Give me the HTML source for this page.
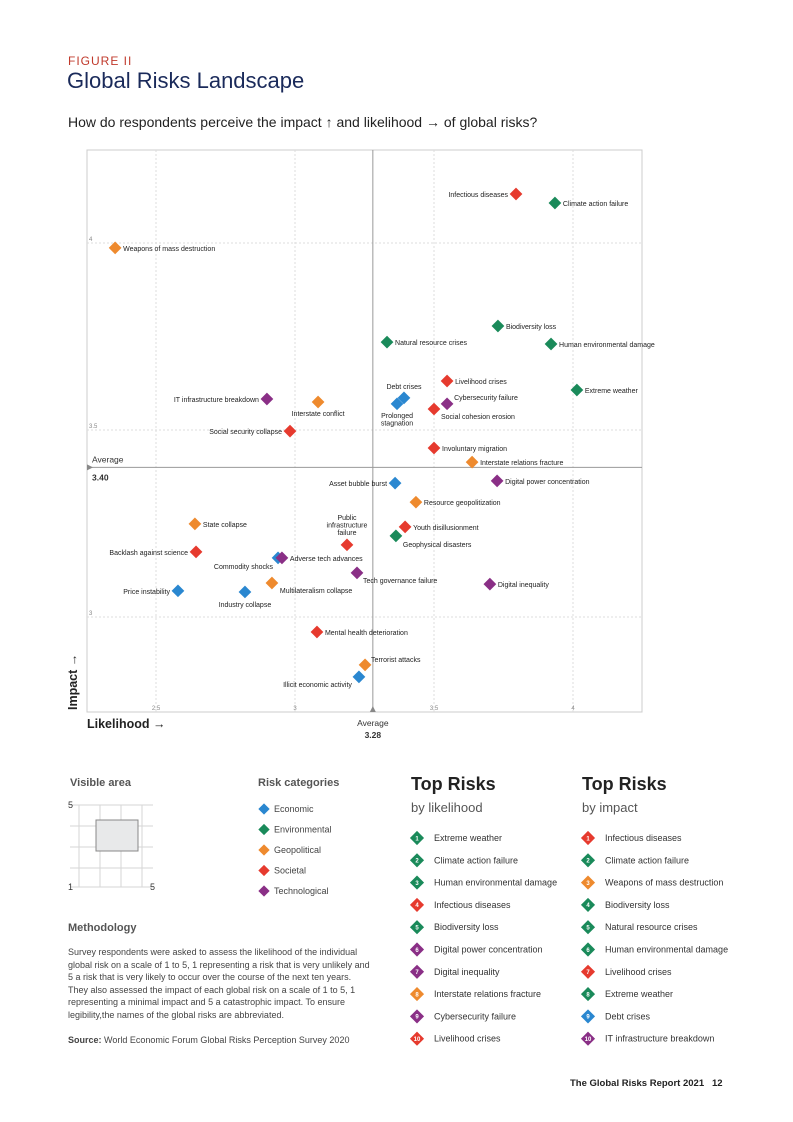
<!DOCTYPE html>
<html><head><meta charset="utf-8">
<style>
body{margin:0;width:793px;height:1122px;background:#fff;font-family:"Liberation Sans",sans-serif;color:#222;position:relative;overflow:hidden}
.abs{position:absolute}
</style></head><body>
<div class="abs" style="left:68px;top:54px;font-size:12px;letter-spacing:1px;color:#c0392b">FIGURE II</div>
<div class="abs" style="left:67px;top:68px;font-size:22px;color:#1a2a5a">Global Risks Landscape</div>
<div class="abs" style="left:68px;top:114px;font-size:14px;color:#222">How do respondents perceive the impact ↑ and likelihood → of global risks?</div>
<svg class="abs" style="left:0;top:0" width="793" height="760" id="chart"></svg>

<div class="abs" style="left:70px;top:777px;font-size:11px;font-weight:bold;color:#555">Visible area</div>
<svg class="abs" style="left:60px;top:795px" width="110" height="100">
<g stroke="#d6d6d6" stroke-width="1"><line x1="19" y1="10" x2="19" y2="92"/><line x1="40" y1="10" x2="40" y2="92"/><line x1="61" y1="10" x2="61" y2="92"/><line x1="82" y1="10" x2="82" y2="92"/>
<line x1="10" y1="10" x2="93" y2="10"/><line x1="10" y1="31" x2="93" y2="31"/><line x1="10" y1="52" x2="93" y2="52"/><line x1="10" y1="73" x2="93" y2="73"/><line x1="10" y1="92" x2="93" y2="92"/></g>
<rect x="36" y="25" width="42" height="31" fill="#e8e9ea" stroke="#888"/>
<text x="8" y="13" font-size="9" fill="#333">5</text><text x="8" y="95" font-size="9" fill="#333">1</text><text x="90" y="95" font-size="9" fill="#333">5</text>
</svg>
<div class="abs" style="left:258px;top:777px;font-size:11px;font-weight:bold;color:#555">Risk categories</div>
<svg class="abs" style="left:255px;top:800px" width="120" height="100" id="legend"></svg>

<div class="abs" style="left:68px;top:922px;font-size:11px;font-weight:bold;color:#555">Methodology</div>
<div class="abs" style="left:68px;top:946px;width:304px;font-size:9px;line-height:12.5px;color:#444">Survey respondents were asked to assess the likelihood of the individual global risk on a scale of 1 to 5, 1 representing a risk that is very unlikely and 5 a risk that is very likely to occur over the course of the next ten years. They also assessed the impact of each global risk on a scale of 1 to 5, 1 representing a minimal impact and 5 a catastrophic impact. To ensure legibility,the names of the global risks are abbreviated.</div>
<div class="abs" style="left:68px;top:1035px;font-size:9px;color:#444"><b>Source:</b> World Economic Forum Global Risks Perception Survey 2020</div>

<div class="abs" style="left:411px;top:774px;font-size:18px;font-weight:bold;color:#222">Top Risks</div>
<div class="abs" style="left:411px;top:800px;font-size:13px;color:#555">by likelihood</div>
<div class="abs" style="left:582px;top:774px;font-size:18px;font-weight:bold;color:#222">Top Risks</div>
<div class="abs" style="left:582px;top:800px;font-size:13px;color:#555">by impact</div>
<svg class="abs" style="left:400px;top:825px" width="393" height="230" id="tops"></svg>
<div class="abs" style="left:570px;top:1078px;font-size:9.5px;font-weight:bold;color:#222">The Global Risks Report 2021&nbsp;&nbsp;&nbsp;12</div>

<script>
const names=["Infectious diseases","Climate action failure","Weapons of mass destruction","Biodiversity loss","Natural resource crises","Human environmental damage","Livelihood crises","Extreme weather","IT infrastructure breakdown","Interstate conflict","Debt crises","Prolonged stagnation","Cybersecurity failure","Social cohesion erosion","Social security collapse","Involuntary migration","Interstate relations fracture","Asset bubble burst","Digital power concentration","Resource geopolitization","State collapse","Youth disillusionment","Public infrastructure failure","Geophysical disasters","Backlash against science","Commodity shocks","Adverse tech advances","Tech governance failure","Multilateralism collapse","Digital inequality","Price instability","Industry collapse","Mental health deterioration","Terrorist attacks","Illicit economic activity"];
const categories=["soc","env","geo","env","env","env","soc","env","tech","geo","eco","eco","tech","soc","soc","soc","geo","eco","tech","geo","geo","soc","soc","env","soc","eco","tech","tech","geo","tech","eco","eco","soc","geo","eco"];
const likelihood=[3.795,3.935,2.353,3.730,3.331,3.921,3.547,4.014,2.899,3.083,3.392,3.367,3.547,3.500,2.982,3.500,3.637,3.360,3.727,3.435,2.640,3.396,3.187,3.363,2.644,2.939,2.953,3.223,2.917,3.701,2.579,2.820,3.079,3.252,3.230];
const impact=[4.131,4.107,3.987,3.778,3.735,3.730,3.631,3.607,3.583,3.575,3.586,3.570,3.570,3.556,3.497,3.452,3.414,3.358,3.364,3.307,3.249,3.241,3.193,3.217,3.174,3.158,3.158,3.118,3.091,3.088,3.070,3.067,2.960,2.872,2.840];
const xTicks=[2.5,3,3.5,4];
const yTicks=[3,3.5,4];
const avgX=3.28, avgY=3.40;
const colors={eco:"#2a87d0",env:"#1a8a5a",geo:"#ee8a2e",soc:"#e63a2e",tech:"#8a2f86"};
const lab={"Infectious diseases":[-8,3,"end"],"Debt crises":[0,-9,"middle"],"Prolonged stagnation":[0,14,"middle"],"IT infrastructure breakdown":[-8,3,"end"],"Interstate conflict":[0,14,"middle"],"Social security collapse":[-8,3,"end"],"Asset bubble burst":[-8,3,"end"],"Public infrastructure failure":[0,-25,"middle"],"Backlash against science":[-8,3,"end"],"Commodity shocks":[-5,11,"end"],"Price instability":[-8,3,"end"],"Industry collapse":[0,15,"middle"],"Illicit economic activity":[-7,10,"end"],"Terrorist attacks":[6,-3,"start"],"Geophysical disasters":[7,11,"start"],"Tech governance failure":[6,10,"start"],"Multilateralism collapse":[8,10,"start"],"Social cohesion erosion":[7,10,"start"],"Cybersecurity failure":[7,-4,"start"]};
const X=v=>295+(v-3)*278, Y=v=>430-(v-3.5)*374;
const NS="http://www.w3.org/2000/svg";
const svg=document.getElementById('chart');
function mk(t,a,p){const e=document.createElementNS(NS,t);for(const k in a)e.setAttribute(k,a[k]);(p||svg).appendChild(e);return e;}
const L=87,R=642,T=150,B=712;
const frame=mk('rect',{x:L,y:T,width:R-L,height:B-T,fill:"none",stroke:"#ccc"});


xTicks.forEach(v=>{const g=mk('line',{x1:X(v),x2:X(v),y1:T,y2:B,stroke:"#ddd","stroke-dasharray":"2,2"});


const t=mk('text',{x:X(v),y:B-2,"font-size":6,fill:"#888","text-anchor":"middle"});t.textContent=v;

});
yTicks.forEach(v=>{const g=mk('line',{x1:L,x2:R,y1:Y(v),y2:Y(v),stroke:"#ddd","stroke-dasharray":"2,2"});


const t=mk('text',{x:L+2,y:Y(v)-2,"font-size":6,fill:"#888"});t.textContent=v;

});
const ax=mk('line',{x1:X(avgX),x2:X(avgX),y1:T,y2:B,stroke:"#999"});


const ay=mk('line',{x1:L,x2:R,y1:Y(avgY),y2:Y(avgY),stroke:"#999"});


mk('path',{d:`M${X(avgX)-3},${B} L${X(avgX)+3},${B} L${X(avgX)},${B-6}Z`,fill:"#888"});
mk('path',{d:`M${L},${Y(avgY)-3} L${L},${Y(avgY)+3} L${L+6},${Y(avgY)}Z`,fill:"#888"});
let t=mk('text',{x:92,y:Y(avgY)-5,"font-size":8.5,fill:"#333"});t.textContent="Average";


t=mk('text',{x:92,y:Y(avgY)+13,"font-size":8.5,"font-weight":"bold",fill:"#333"});t.textContent=avgY.toFixed(2);


t=mk('text',{x:X(avgX),y:B+14,"font-size":8.5,fill:"#333","text-anchor":"middle"});t.textContent="Average";


t=mk('text',{x:X(avgX),y:B+26,"font-size":8.5,"font-weight":"bold",fill:"#333","text-anchor":"middle"});t.textContent=avgX.toFixed(2);


t=mk('text',{x:87,y:728,"font-size":12.5,"font-weight":"bold",fill:"#222"});t.textContent="Likelihood →";


t=mk('text',{x:77,y:710,"font-size":12.5,"font-weight":"bold",fill:"#222",transform:"rotate(-90 77 710)"});t.textContent="Impact →";


names.forEach((n,i)=>{const cx=X(likelihood[i]),cy=Y(impact[i]);
const d=mk('rect',{x:cx-4.5,y:cy-4.5,width:9,height:9,fill:colors[categories[i]],transform:`rotate(45 ${cx} ${cy})`});


const l=lab[n]||[8,3,"start"];
const words=n==="Public infrastructure failure"?["Public","infrastructure","failure"]:n==="Prolonged stagnation"?["Prolonged","stagnation"]:[n];
words.forEach((w,j)=>{const tx=mk('text',{x:cx+l[0],y:cy+l[1]+j*7.5,"font-size":7,fill:"#222","text-anchor":l[2]});tx.textContent=w;

});});
const lg=document.getElementById('legend');
[["Economic","eco"],["Environmental","env"],["Geopolitical","geo"],["Societal","soc"],["Technological","tech"]].forEach((c,i)=>{const y=9+i*20.5;
const r=mk('rect',{x:5,y:y-4,width:8,height:8,fill:colors[c[1]],transform:`rotate(45 9 ${y})`},lg);


const tx=mk('text',{x:19,y:y+3,"font-size":9,fill:"#444"},lg);tx.textContent=c[0];

});
const topL=[["Extreme weather","env"],["Climate action failure","env"],["Human environmental damage","env"],["Infectious diseases","soc"],["Biodiversity loss","env"],["Digital power concentration","tech"],["Digital inequality","tech"],["Interstate relations fracture","geo"],["Cybersecurity failure","tech"],["Livelihood crises","soc"]];
const topI=[["Infectious diseases","soc"],["Climate action failure","env"],["Weapons of mass destruction","geo"],["Biodiversity loss","env"],["Natural resource crises","env"],["Human environmental damage","env"],["Livelihood crises","soc"],["Extreme weather","env"],["Debt crises","eco"],["IT infrastructure breakdown","tech"]];
const tp=document.getElementById('tops');
[[topL,17],[topI,188]].forEach(([list,x0])=>list.forEach((r,i)=>{const y=13+i*22.3;
const d=mk('rect',{x:x0-5,y:y-5,width:10,height:10,fill:colors[r[1]],transform:`rotate(45 ${x0} ${y})`},tp);


const n=mk('text',{x:x0,y:y+2.3,"font-size":6,fill:"#fff","text-anchor":"middle","font-weight":"bold"},tp);n.textContent=i+1;


const tx=mk('text',{x:x0+17,y:y+3,"font-size":9,fill:"#333"},tp);tx.textContent=r[0];

}));
</script>
</body></html>
